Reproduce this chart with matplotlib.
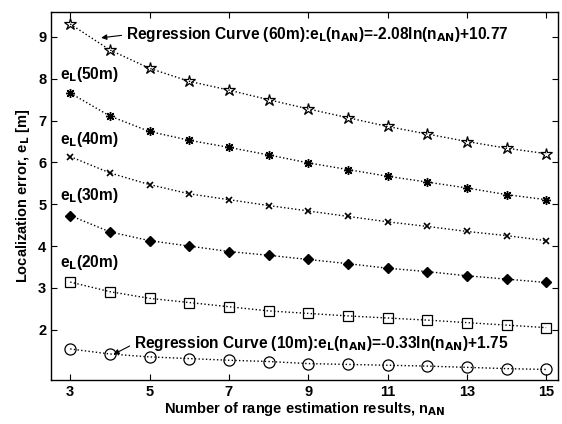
import matplotlib.pyplot as plt
import numpy as np

plt.rcParams['font.family'] = ['Liberation Sans', 'DejaVu Sans']
plt.rcParams['font.weight'] = 'bold'
plt.rcParams['mathtext.default'] = 'bf'

n_an = np.arange(3, 16)

e_60m = [9.31, 8.69, 8.25, 7.94, 7.73, 7.50, 7.28, 7.07, 6.86, 6.68, 6.50, 6.34, 6.21]
e_50m = [7.66, 7.11, 6.74, 6.53, 6.36, 6.18, 5.99, 5.83, 5.67, 5.53, 5.39, 5.23, 5.11]
e_40m = [6.14, 5.75, 5.47, 5.25, 5.11, 4.97, 4.84, 4.71, 4.58, 4.47, 4.35, 4.25, 4.13]
e_30m = [4.73, 4.34, 4.13, 4.00, 3.87, 3.78, 3.68, 3.58, 3.47, 3.39, 3.29, 3.21, 3.13]
e_20m = [3.14, 2.91, 2.75, 2.65, 2.55, 2.45, 2.39, 2.33, 2.28, 2.23, 2.17, 2.11, 2.05]
e_10m = [1.54, 1.42, 1.35, 1.31, 1.27, 1.24, 1.19, 1.17, 1.15, 1.13, 1.10, 1.07, 1.05]

x_ticks = [3, 5, 7, 9, 11, 13, 15]
y_ticks = [2, 3, 4, 5, 6, 7, 8, 9]

fig = plt.figure(figsize=(5.62, 4.24), dpi=100)
ax = fig.add_axes([0.091, 0.104, 0.902, 0.868])

line_kw = dict(color='black', linestyle=':', linewidth=1.0)
ax.plot(n_an, e_60m, marker='*', markersize=9, markerfacecolor='none',
        markeredgecolor='black', markeredgewidth=0.9, **line_kw)
ax.plot(n_an, e_50m, marker=(8, 2, 0), markersize=6.5, markeredgecolor='black',
        markeredgewidth=1.0, **line_kw)
ax.plot(n_an, e_40m, marker='x', markersize=5, markeredgecolor='black',
        markeredgewidth=1.2, **line_kw)
ax.plot(n_an, e_30m, marker='D', markersize=5, markerfacecolor='black',
        markeredgecolor='black', **line_kw)
ax.plot(n_an, e_20m, marker='s', markersize=7, markerfacecolor='none',
        markeredgecolor='black', markeredgewidth=0.9, **line_kw)
ax.plot(n_an, e_10m, marker='o', markersize=8, markerfacecolor='none',
        markeredgecolor='black', markeredgewidth=0.9, **line_kw)

fs = 10.5
fa = 11.2
arrow = dict(arrowstyle='-|>', color='black', lw=0.8, mutation_scale=8,
             shrinkA=1, shrinkB=0, relpos=(0, 0.5))
ax.annotate(r'Regression Curve (60m):e$_L$(n$_{AN}$)=-2.08ln(n$_{AN}$)+10.77',
            xy=(3.78, 8.98), xytext=(4.4, 9.05), fontsize=fa, va='center',
            arrowprops=arrow)
ax.annotate(r'Regression Curve (10m):e$_L$(n$_{AN}$)=-0.33ln(n$_{AN}$)+1.75',
            xy=(4.09, 1.41), xytext=(4.6, 1.66), fontsize=fa, va='center',
            arrowprops=arrow)

ax.text(2.74, 8.1, r'e$_L$(50m)', fontsize=fa, va='center')
ax.text(2.74, 6.55, r'e$_L$(40m)', fontsize=fa, va='center')
ax.text(2.74, 5.2, r'e$_L$(30m)', fontsize=fa, va='center')
ax.text(2.74, 3.6, r'e$_L$(20m)', fontsize=fa, va='center')

ax.set_xlim(2.52, 15.3)
ax.set_ylim(0.8, 9.6)
ax.set_xticks(x_ticks)
ax.set_yticks(y_ticks)
ax.tick_params(direction='in', top=True, right=True, labelsize=fs, length=4)
for lbl in ax.get_xticklabels() + ax.get_yticklabels():
    lbl.set_fontweight('bold')
ax.set_xlabel(r'Number of range estimation results, n$_{AN}$', fontsize=fs,
              fontweight='bold', labelpad=1)
ax.set_ylabel(r'Localization error, e$_L$ [m]', fontsize=fs,
              fontweight='bold', labelpad=4)
for s in ax.spines.values():
    s.set_linewidth(1.0)

fig.savefig('out.png', dpi=100)
